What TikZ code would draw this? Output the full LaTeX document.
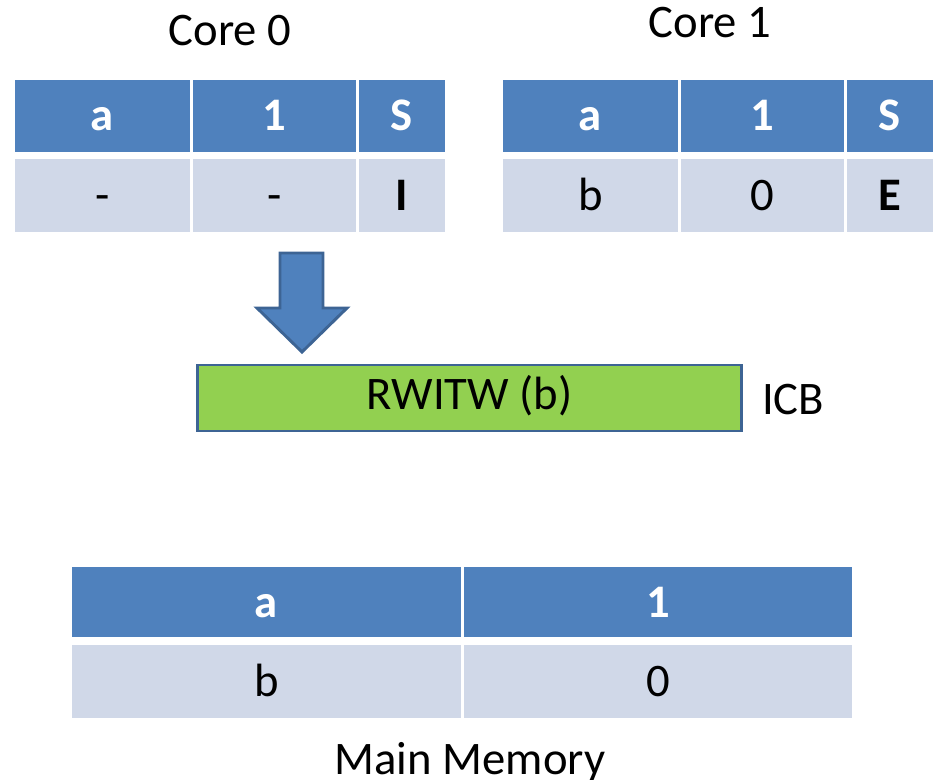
\documentclass[tikz,border=0pt]{standalone}
\usepackage{fontspec}
\setmainfont{Carlito}
\definecolor{hdrblue}{HTML}{4F81BD}
\definecolor{rowgray}{HTML}{D0D8E8}
\definecolor{busgreen}{HTML}{92D050}
\definecolor{edgeblue}{HTML}{3D6494}
\tikzset{
  x=0.75pt, y=-0.75pt,
  cellbase/.style={inner sep=0pt, outer sep=0pt, align=center,
    font=\fontsize{35}{40}\selectfont, text height=22.5pt, text depth=0pt},
  hdr/.style={cellbase, fill=hdrblue, text=white, font=\fontsize{35}{40}\selectfont\bfseries},
  row/.style={cellbase, fill=rowgray, text=black},
  label/.style={inner sep=0pt, anchor=base, font=\fontsize{35}{40}\selectfont},
}
\begin{document}
\begin{tikzpicture}
\useasboundingbox (0,0) rectangle (934,780);

% Core 0 cache line
\node[hdr, minimum width=131.25pt, minimum height=54pt] (c0ha) at (102.5,116) {a};
\node[hdr, minimum width=122.25pt, minimum height=54pt] (c0hv) at (274.5,116) {1};
\node[hdr, minimum width=64.5pt,   minimum height=54pt] (c0hs) at (402,116) {S};
\node[row, minimum width=131.25pt, minimum height=54.75pt] (c0ra) at (102.5,195.5) {-};
\node[row, minimum width=122.25pt, minimum height=54.75pt] (c0rv) at (274.5,195.5) {-};
\node[row, minimum width=64.5pt,   minimum height=54.75pt] (c0rs) at (402,195.5) {\bfseries I};
\node[label] (core0) at (230,46) {Core 0};

% Core 1 cache line
\node[hdr, minimum width=131.25pt, minimum height=54pt] (c1ha) at (590.5,116) {a};
\node[hdr, minimum width=122.25pt, minimum height=54pt] (c1hv) at (762.5,116) {1};
\node[hdr, minimum width=64.5pt,   minimum height=54pt] (c1hs) at (890,116) {S};
\node[row, minimum width=131.25pt, minimum height=54.75pt] (c1ra) at (590.5,195.5) {b};
\node[row, minimum width=122.25pt, minimum height=54.75pt] (c1rv) at (762.5,195.5) {0};
\node[row, minimum width=64.5pt,   minimum height=54.75pt] (c1rs) at (890,195.5) {\bfseries E};
\node[label] (core1) at (710,38) {Core 1};

% Block arrow from Core 0 down to the bus
\draw[fill=hdrblue, draw=edgeblue, line width=2.2pt, line join=miter]
  (280,253) -- (323,253) -- (323,308) -- (347,308) -- (302,352)
  -- (257,308) -- (280,308) -- cycle;

% Interconnect bus message
\node[draw=edgeblue, fill=busgreen, line width=2.2pt, inner sep=0pt,
      minimum width=408pt, minimum height=49.5pt,
      font=\fontsize{35}{40}\selectfont, text height=24pt, text depth=7pt] (bus) at (469.5,398) {RWITW (b)};
\node[label] (icb) at (793,414) {ICB};

% Main memory
\node[hdr, minimum width=291.75pt, minimum height=52.5pt] (mha) at (266.5,602) {a};
\node[hdr, minimum width=291pt,    minimum height=52.5pt] (mhv) at (658,602) {1};
\node[row, minimum width=291.75pt, minimum height=54.75pt] (mra) at (266.5,681.5) {b};
\node[row, minimum width=291pt,    minimum height=54.75pt] (mrv) at (658,681.5) {0};
\node[label] (mem) at (470,774) {Main Memory};
\end{tikzpicture}
\end{document}
